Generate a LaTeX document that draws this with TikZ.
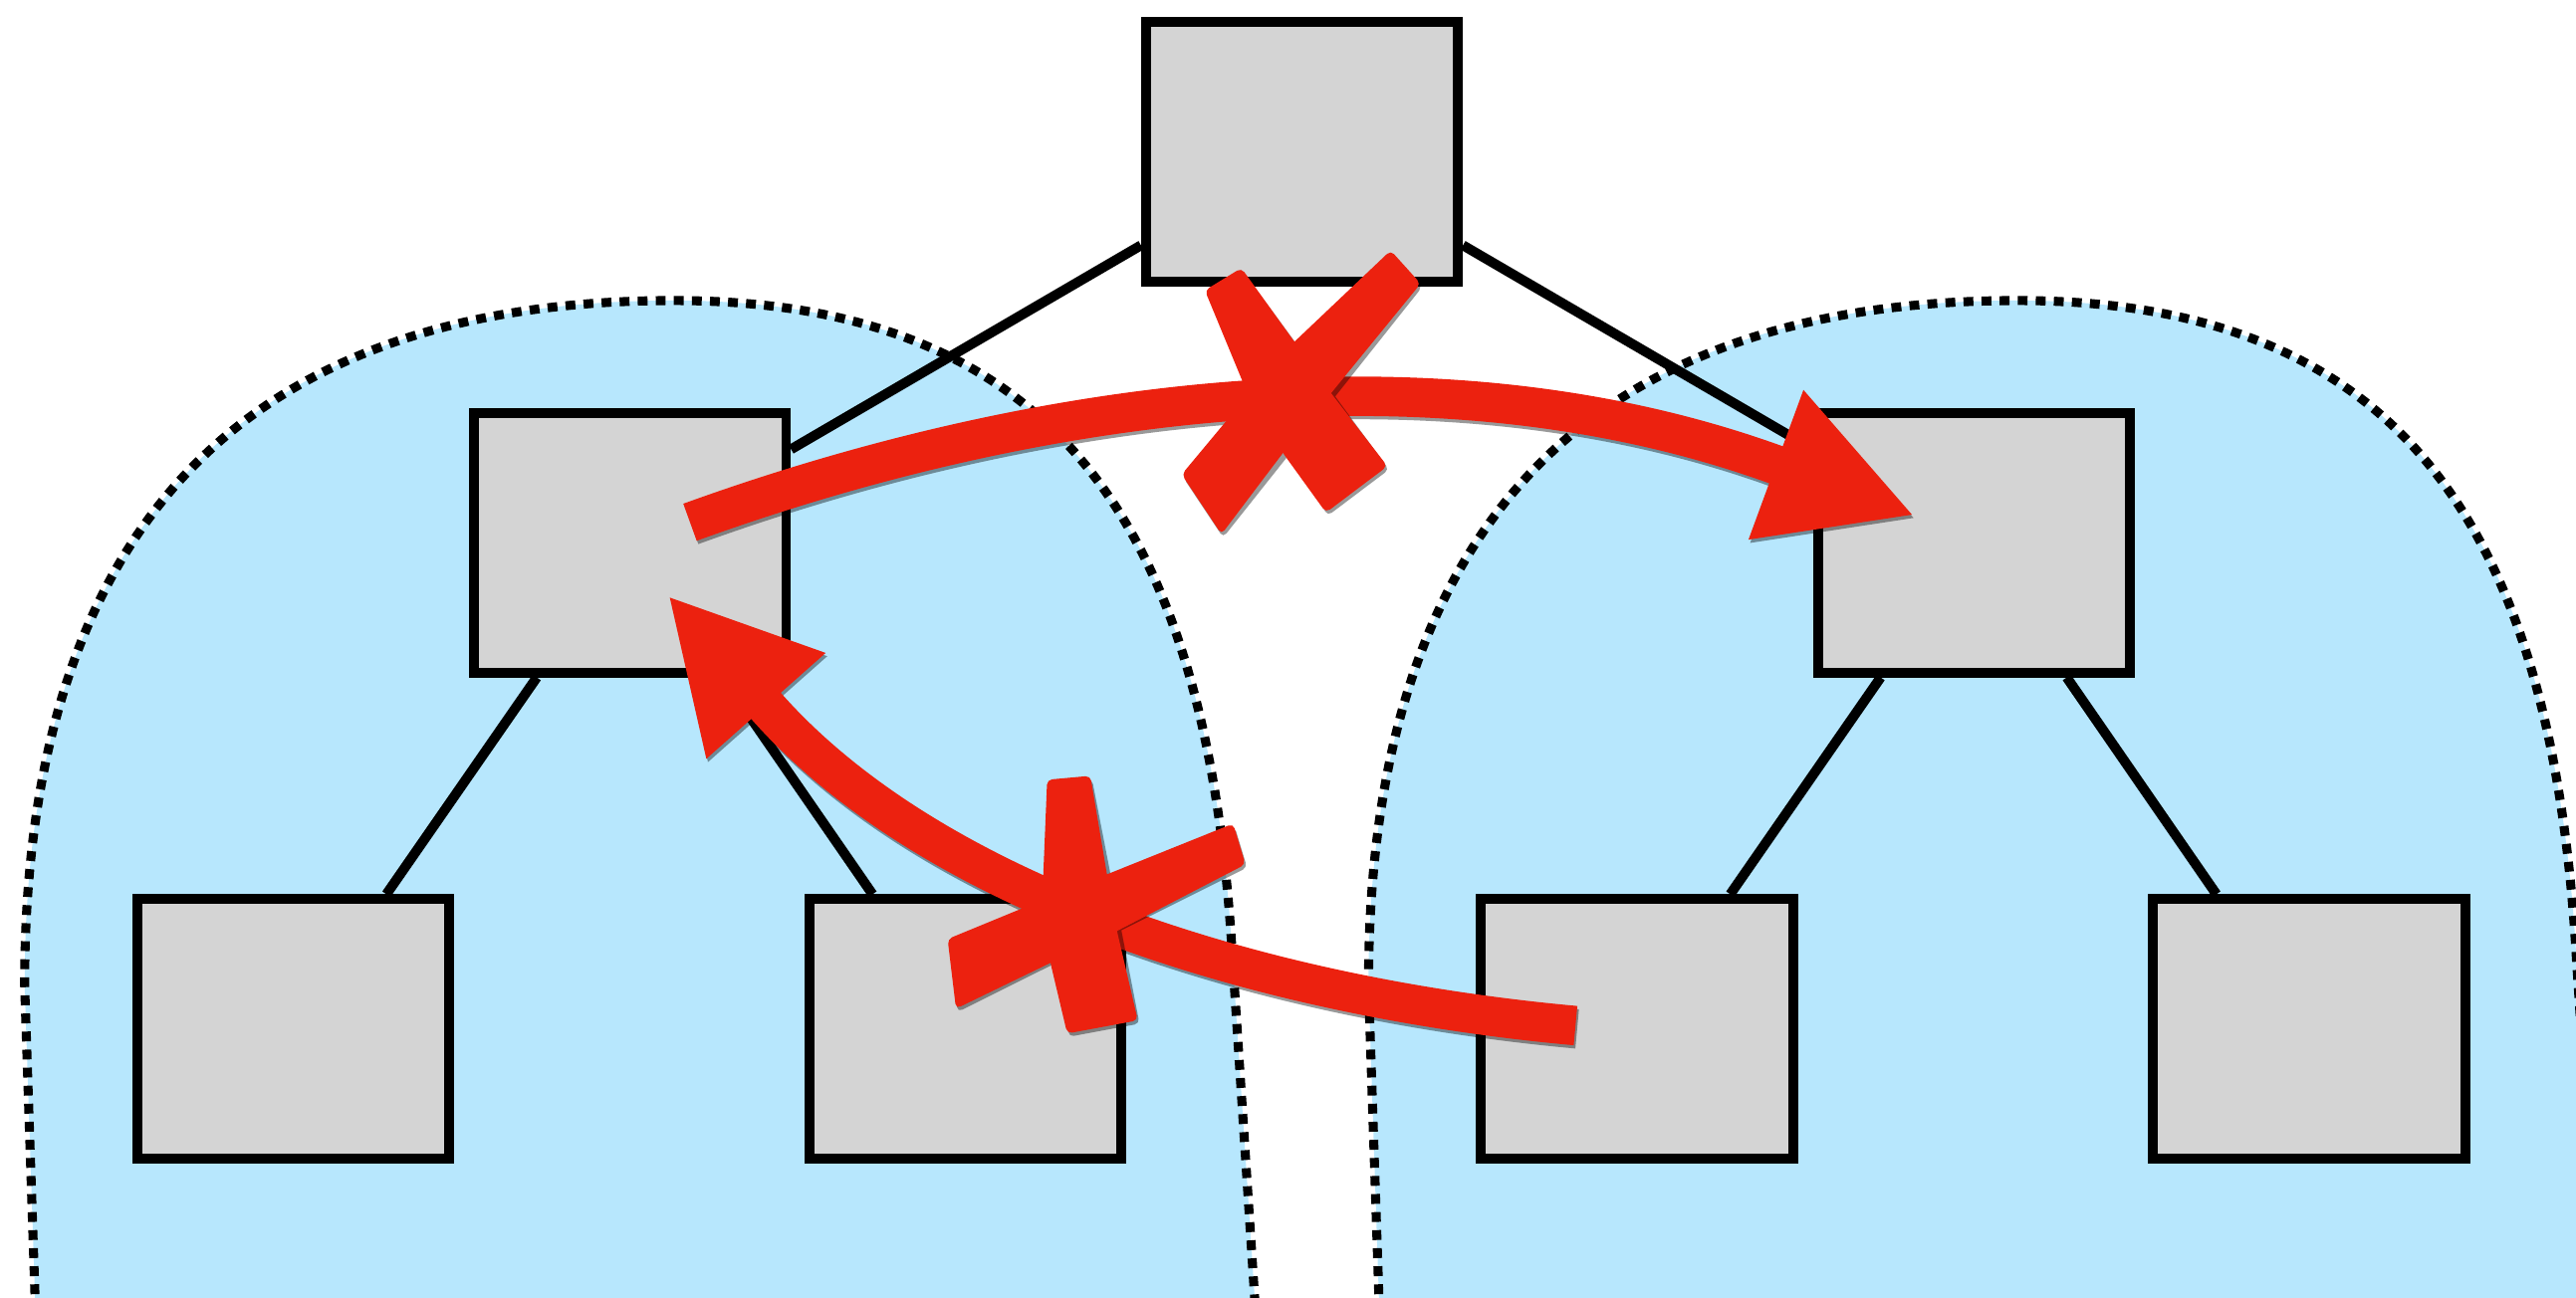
\documentclass[tikz,border=0pt]{standalone}
\usepackage{tikz}
\usetikzlibrary{arrows.meta, calc}
\definecolor{boxgray}{RGB}{212,212,212}
\definecolor{treeblue}{RGB}{183,231,253}
\definecolor{crossred}{RGB}{236,33,15}

\tikzset{
  tnode/.style={draw, line width=6pt, fill=boxgray, minimum width=190pt,
                minimum height=158pt, inner sep=0pt},
  link/.style={line width=6pt},
  blob/.style={fill=treeblue, draw=black, line width=5.5pt,
               dash pattern=on 6pt off 5pt},
  redarrow/.style={draw=crossred, line width=24pt,
                   -{Triangle[length=90pt,width=90pt]}},
  redshadow/.style={draw=black, opacity=.4, line width=24pt,
                    -{Triangle[length=90pt,width=90pt]},
                    transform canvas={shift={(1pt,-2pt)}}},
  redmark/.style={fill=crossred, rounded corners=3pt},
  markshadow/.style={fill=black, opacity=.4, rounded corners=3pt,
                     transform canvas={shift={(1pt,-2pt)}}}
}

\begin{document}
\begin{tikzpicture}[x=1pt, y=-1pt]
  \useasboundingbox (0,0) rectangle (1568,789.8);
  % the two subtrees
  \path[blob] (22,810) -- (15,600) .. controls (15,300) and (170,183) .. (410,183)
      .. controls (650,183) and (735,330) .. (750,580) -- (765,810) -- cycle;
  \path[blob] (840,810) -- (833,600) .. controls (833,300) and (988,183) .. (1228,183)
      .. controls (1468,183) and (1553,330) .. (1568,580) -- (1583,810) -- cycle;

  % tree
  \node[tnode] (root) at (792.5,92.5) {};
  \node[tnode] (lmid) at (383.5,330.5) {};
  \node[tnode] (rmid) at (1201.5,330.5) {};
  \node[tnode] (ll) at (178.5,626.5) {};
  \node[tnode] (lr) at (587.5,626.5) {};
  \node[tnode] (rl) at (996.5,626.5) {};
  \node[tnode] (rr) at (1405.5,626.5) {};
  \draw[link] (root) -- (lmid);
  \draw[link] (root) -- (rmid);
  \draw[link] (lmid) -- (ll);
  \draw[link] (lmid) -- (lr);
  \draw[link] (rmid) -- (rl);
  \draw[link] (rmid) -- (rr);

  % move across the root, struck out
  \coordinate (a1s) at ($(lmid)+(36.5,-12.5)$);
  \coordinate (a1e) at ($(rmid)+(-36,-16.5)$);
  \coordinate (a1b) at ($(a1e)+(-84.5,-31)$);
  \draw[redshadow] (a1s) .. controls +(207,-75) and +(-207,-75) .. (a1b) -- (a1e);
  \draw[redarrow] (a1s) .. controls +(207,-75) and +(-207,-75) .. (a1b) -- (a1e);
  \path[markshadow] (733.4,176.8) -- (807.1,312.1) -- (844.5,283.9) -- (755.6,163.2) -- cycle
    (846.5,152.5) -- (719.3,288.9) -- (743.5,325.3) -- (864.7,172.7) -- cycle;
  \path[redmark] (733.4,176.8) -- (759.7,240.4) -- (780.9,275.8) -- (807.1,312.1)
      -- (844.5,283.9) -- (810.2,239.4) -- (787.9,208.1) -- (755.6,163.2) -- cycle;
  \path[redmark] (846.5,152.5) -- (787.9,208.1) -- (759.7,240.4) -- (719.3,288.9)
      -- (743.5,325.3) -- (780.9,275.8) -- (810.2,239.4) -- (864.7,172.7) -- cycle;

  % move back between subtrees, struck out
  \coordinate (a2s) at ($(rl)+(-37.5,-2)$);
  \coordinate (a2e) at ($(lmid)+(23,32)$);
  \coordinate (a2b) at ($(a2e)+(60.1,67.7)$);
  \draw[redshadow] (a2s) .. controls +(-198,-18) and +(99.4,112.2) .. (a2b) -- (a2e);
  \draw[redarrow] (a2s) .. controls +(-198,-18) and +(99.4,112.2) .. (a2b) -- (a2e);
  \path[markshadow] (637.4,474.8) -- (649.6,629.3) -- (692.6,621.3) -- (663.7,472.4) -- cycle
    (576.8,571.8) -- (581.9,614.2) -- (758.1,526.3) -- (750.6,501.5) -- cycle;
  \path[redmark] (637.4,474.8) -- (634.4,548.1) -- (639.4,586.3) -- (649.6,629.3)
      -- (692.6,621.3) -- (679.9,566.9) -- (673.8,532.4) -- (663.7,472.4) -- cycle;
  \path[redmark] (576.8,571.8) -- (581.9,614.2) -- (639.4,586.3) -- (679.9,566.9)
      -- (758.1,526.3) -- (750.6,501.5) -- (673.8,532.4) -- (634.4,548.1) -- cycle;
\end{tikzpicture}
\end{document}
